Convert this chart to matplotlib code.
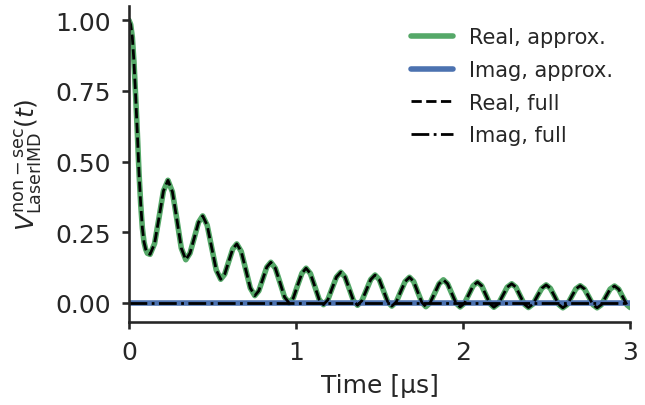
import numpy as np
import matplotlib
matplotlib.use("Agg")
import matplotlib.pyplot as plt
import seaborn as sns

# Werte (Zeit in us)
t_real = [
    0.000, 0.010, 0.020, 0.030, 0.040, 0.050, 0.060, 0.070, 0.080, 0.090, 0.100, 0.110,
    0.126, 0.153, 0.180, 0.206,
    0.233, 0.260, 0.287, 0.313,
    0.340, 0.365, 0.391, 0.416,
    0.441, 0.468, 0.495, 0.522,
    0.549, 0.573, 0.597, 0.621,
    0.645, 0.672, 0.699, 0.726,
    0.753, 0.777, 0.801, 0.825,
    0.849, 0.876, 0.904, 0.931,
    0.958, 0.984, 1.009, 1.035,
    1.060, 1.086, 1.112, 1.138,
    1.164, 1.190, 1.216, 1.242,
    1.268, 1.293, 1.318, 1.343,
    1.368, 1.394, 1.421, 1.447,
    1.473, 1.498, 1.523, 1.548,
    1.573, 1.600, 1.626, 1.653,
    1.679, 1.704, 1.728, 1.753,
    1.777, 1.803, 1.830, 1.856,
    1.882, 1.907, 1.932, 1.957,
    1.982, 2.008, 2.034, 2.060,
    2.086, 2.111, 2.135, 2.160,
    2.184, 2.211, 2.238, 2.264,
    2.291, 2.316, 2.341, 2.366,
    2.391, 2.418, 2.444, 2.471,
    2.497, 2.522, 2.547, 2.572,
    2.597, 2.623, 2.649, 2.675,
    2.701, 2.726, 2.752, 2.777,
    2.802, 2.828, 2.854, 2.880,
    2.906, 2.931, 2.955, 2.980, 3.000,
]
v_real_approx = [
    1.000, 0.985, 0.940, 0.850, 0.730, 0.600, 0.460, 0.350, 0.265, 0.215, 0.190, 0.176,
    0.172, 0.210, 0.303, 0.396,
    0.434, 0.393, 0.294, 0.194,
    0.153, 0.176, 0.231, 0.285,
    0.308, 0.275, 0.196, 0.117,
    0.084, 0.102, 0.147, 0.191,
    0.209, 0.182, 0.118, 0.053,
    0.026, 0.043, 0.085, 0.127,
    0.144, 0.123, 0.072, 0.021,
    0.000, 0.018, 0.062, 0.105,
    0.123, 0.104, 0.059, 0.013,
    -0.006, 0.011, 0.052, 0.092,
    0.109, 0.092, 0.051, 0.009,
    -0.008, 0.008, 0.046, 0.083,
    0.099, 0.083, 0.044, 0.005,
    -0.011, 0.004, 0.040, 0.076,
    0.091, 0.076, 0.039, 0.002,
    -0.013, 0.001, 0.035, 0.068,
    0.082, 0.068, 0.034, 0.000,
    -0.014, -0.001, 0.030, 0.061,
    0.074, 0.061, 0.030, -0.002,
    -0.015, -0.003, 0.027, 0.056,
    0.068, 0.056, 0.026, -0.004,
    -0.016, -0.004, 0.024, 0.052,
    0.064, 0.052, 0.024, -0.005,
    -0.017, -0.006, 0.022, 0.050,
    0.061, 0.050, 0.022, -0.006,
    -0.017, -0.006, 0.022, 0.049,
    0.060, 0.049, 0.022, -0.006, -0.016,
]
# volle Rechnung liegt im Bild genau auf der Naeherung
v_real_full = v_real_approx

t_imag = [0.0, 3.0]
v_imag_approx = [0.0, 0.0]
v_imag_full = [0.0, 0.0]

sns.set_theme(style="ticks", context="talk")
plt.rcParams["font.family"] = ["DejaVu Sans"]

fig = plt.figure(figsize=(6.45, 4.06), dpi=100)
ax = fig.add_axes([0.200, 0.204, 0.777, 0.779])

ax.plot(t_real, v_real_approx, color="#55A868", lw=4, label="Real, approx.")
ax.plot(t_imag, v_imag_approx, color="#4C72B0", lw=4, label="Imag, approx.")
ax.plot(t_real, v_real_full, color="black", ls="--", lw=2, label="Real, full")
ax.plot(t_imag, v_imag_full, color="black", ls="-.", lw=2, label="Imag, full")

ax.set_xlim(0, 3)
ax.set_xticks([0, 1, 2, 3])
ax.set_yticks([0.0, 0.25, 0.5, 0.75, 1.0])
ax.set_yticklabels(["0.00", "0.25", "0.50", "0.75", "1.00"])
ax.tick_params(labelsize=18, length=5, pad=8)
ax.set_xlabel("Time [µs]", fontsize=18, labelpad=6)
ax.set_ylabel(r"$V^{\rm non-sec}_{\rm LaserIMD}(t)$", fontsize=18, labelpad=8)

ax.legend(frameon=False, fontsize=15, loc="upper right", handlelength=2.0,
          bbox_to_anchor=(0.983, 0.959), borderaxespad=0, labelspacing=0.61)
sns.despine()

fig.savefig("out.png", dpi=100)
